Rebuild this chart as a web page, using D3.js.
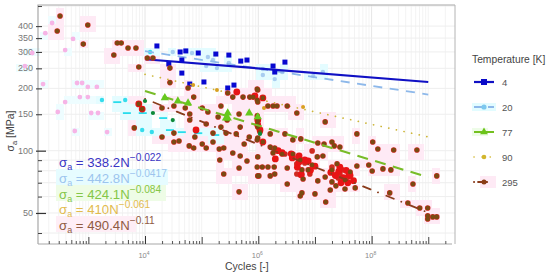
<!DOCTYPE html>
<html>
<head>
<meta charset="utf-8">
<script src="https://cdn.jsdelivr.net/npm/d3@7"></script>
<style>
  html, body { margin: 0; padding: 0; background: #fff; }
  svg { display: block; font-family: "Liberation Sans", Arial, sans-serif; }
  .domain { display: none; }
</style>
</head>
<body>
<div class="wrapper"></div>
<script>
// all points are [log10 cycles, log10 stress]
var points4 = [[4.21,2.506],[4.62,2.477],[4.72,2.482],[4.94,2.472],[5.25,2.467],[5.48,2.462],[5.69,2.433],[5.80,2.438],[6.26,2.409],[6.47,2.428],[6.29,2.380],[4.65,2.438],[4.42,2.419],[4.65,2.375],[5.04,2.332],[4.79,2.322],[5.46,2.303],[5.57,2.317]];
var points20 = [[4.09,2.477],[4.49,2.477],[4.83,2.472],[5.11,2.453],[5.20,2.438],[5.08,2.409],[5.27,2.399],[5.48,2.424],[6.08,2.395],[6.08,2.366],[6.29,2.346],[6.42,2.380],[7.14,2.380],[6.97,2.361],[3.24,2.245],[3.65,2.245],[3.95,2.100],[4.12,2.090]];
var dashes20 = [[3.51,2.235],[3.68,2.182],[3.96,2.182],[4.32,2.158],[4.44,2.100],[4.65,2.090],[4.94,2.085],[5.24,2.076]];
var paleLow = [[2.20,2.322],[2.80,2.327],[2.89,2.327],[2.99,2.308],[3.15,2.308],[2.85,2.259],[2.99,2.259],[2.59,2.235],[2.46,2.187],[3.05,2.182],[3.17,2.182],[2.76,2.095],[3.33,2.090],[2.36,2.617],[2.24,2.568],[2.01,2.472],[1.88,2.409],[2.59,2.486],[2.73,2.540]];
var points77 = [[4.35,2.255],[4.58,2.240],[4.76,2.230],[5.46,2.182],[5.46,2.158],[5.84,2.182],[5.99,2.163],[5.43,2.158]];
var dots77 = [[4.00,2.240],[4.14,2.182],[4.49,2.148],[6.03,2.081]];
var points90 = [[4.85,2.317],[5.27,2.293],[6.79,2.211],[6.33,2.216],[6.10,2.206]];
// spots where the 295 K marks pile up and read as plain red
var redDots = [[4.90,2.100],[5.62,2.284],[6.42,1.990],[6.58,1.985],[6.72,1.975],[6.82,1.955],[6.69,1.920],[6.72,1.945],[6.88,1.950],[6.76,1.885],[7.00,1.925],[7.42,1.900],[7.50,1.870],[7.60,1.890],[7.68,1.855],[7.46,1.845],[7.36,1.880],[7.55,1.905],[7.62,1.880],[7.28,1.895],[7.58,1.845],[7.44,1.920],[6.08,2.255],[5.94,2.265],[5.99,2.124],[5.99,2.148],[6.03,2.100],[6.08,2.042],[3.89,2.226],[3.95,2.201],[6.35,2.000],[6.92,1.905],[6.60,1.965],[6.30,1.960]];
var points295 = [[2.50,2.651],[2.45,2.578],[2.99,2.607],[2.91,2.515],[3.51,2.520],[3.58,2.520],[3.45,2.462],[3.70,2.496],[3.84,2.496],[3.89,2.404],[4.04,2.448],[4.14,2.448],[3.89,2.226],[3.95,2.201],[3.81,2.110],[4.44,2.399],[4.44,2.329],[4.76,2.303],[4.86,2.259],[4.30,2.206],[4.51,2.216],[4.71,2.206],[4.79,2.177],[4.79,2.148],[5.01,2.206],[5.11,2.187],[5.34,2.216],[5.29,2.163],[5.08,2.129],[5.45,2.148],[5.66,2.177],[5.68,2.114],[5.34,2.114],[5.61,2.081],[4.30,2.066],[4.51,2.085],[4.88,2.066],[5.20,2.085],[5.43,2.085],[5.84,2.066],[5.99,2.124],[5.98,2.245],[5.55,2.259],[5.73,2.259],[5.85,2.259],[5.46,2.279],[5.98,2.298],[4.51,2.042],[4.60,2.047],[4.78,2.023],[4.86,2.013],[5.01,2.032],[5.08,2.013],[5.20,2.042],[5.75,2.032],[5.98,2.052],[5.31,2.008],[5.39,2.013],[5.55,1.989],[5.68,1.974],[5.80,1.950],[5.66,1.916],[5.98,1.921],[5.99,1.878],[5.32,1.955],[5.39,1.887],[5.66,1.801],[5.99,1.970],[5.99,2.293],[5.91,2.259],[6.08,2.255],[5.99,2.235],[6.17,2.216],[6.26,2.216],[6.33,2.216],[6.51,2.216],[6.68,2.182],[7.18,2.139],[7.74,2.081],[5.98,2.168],[5.99,2.143],[5.99,2.114],[6.03,2.090],[6.21,2.081],[6.47,2.081],[6.61,2.052],[6.75,2.057],[7.05,2.037],[7.16,2.032],[7.30,2.042],[7.34,2.023],[7.44,2.018],[5.99,2.061],[6.08,2.042],[6.21,2.018],[6.29,2.013],[6.26,1.989],[6.42,1.984],[6.47,1.984],[6.61,1.984],[6.95,1.999],[7.04,1.970],[7.14,1.974],[6.74,1.955],[6.82,1.941],[6.95,1.931],[6.68,1.936],[6.77,1.907],[6.68,1.887],[6.79,1.863],[6.91,1.887],[7.05,1.854],[6.07,1.921],[6.17,1.921],[6.28,1.921],[6.51,1.916],[6.01,1.878],[6.21,1.878],[6.29,1.887],[6.51,1.839],[7.30,1.921],[7.39,1.936],[7.74,1.926],[7.95,1.931],[8.01,1.902],[8.20,1.912],[8.34,1.907],[8.02,2.042],[8.11,2.008],[8.39,2.003],[8.80,2.003],[7.71,1.820],[8.32,1.796],[8.73,1.839],[8.64,1.747],[8.85,1.723],[8.99,1.723],[8.99,1.685],[8.99,1.670],[9.08,1.680],[9.15,1.680],[9.15,1.878],[6.77,1.796],[6.74,1.781],[7.00,1.791],[7.19,1.752],[7.18,1.873],[7.30,1.907],[7.48,1.907],[7.30,1.849],[7.41,1.868],[7.53,1.858],[7.58,1.873],[7.27,1.810],[7.53,1.815],[7.37,1.830],[7.44,1.887],[7.62,1.897],[6.70,1.970],[6.88,1.907],[6.74,1.882]];

// fit line ends, [cycles, MPa]
var fit4 = [[1e4, 276.5], [1e9, 214.7]];
var fit20 = [[1e4, 302.4], [1e9, 186.8]];
var fit77 = [[1e4, 194], [1e9, 74.4]];
var fit90 = [[1e4, 233.9], [1e9, 116.6]];
var fit295 = [[1e4, 178], [1e9, 50.2]];

var yLabels = [50, 100, 150, 200, 250, 300, 350, 400];
var yMinor = [40, 60, 70, 80, 90, 500];
var xMajor = [1e4, 1e6, 1e8];
var xOdd = [1e3, 1e5, 1e7, 1e9];
var temperatures = ["4", "20", "77", "90", "295"];
var eqCoeffs = ["338.2", "442.8", "424.1", "410", "490.4"];
var eqExps = ["-0.022", "-0.0417", "-0.084", "-0.061", "-0.11"];
var eqColors = ["#3a35c4", "#9cc4ee", "#84c648", "#e2bb4e", "#8f5a42"];
var eqHalos = [null, "#e6fcff", "#eefce6", null, "#feeef6"];

var width = 550, height = 276;
var margin = { left: 38, right: 455, top: 5, bottom: 244 };

var x = d3.scaleLog().domain([Math.pow(10, 2.111), Math.pow(10, 9.472)]).range([margin.left, margin.right]);
var y = d3.scaleLog().domain([505.8, 35.4]).range([margin.top, margin.bottom]);

var svg = d3.select(".wrapper").append("svg").attr("width", width).attr("height", height);

function px(d) { return x(Math.pow(10, d[0])); }
function py(d) { return y(Math.pow(10, d[1])); }

function minorX() {
  var out = [];
  for (var e = 2; e <= 9; e++) {
    for (var m = 2; m <= 9; m++) {
      var v = m * Math.pow(10, e);
      if (v > x.domain()[0] && v < x.domain()[1]) out.push(v);
    }
  }
  return out;
}

function drawGrid() {
  var g = svg.append("g").attr("class", "grid");
  g.selectAll(".gx").data(minorX().concat(xOdd)).enter().append("line")
    .attr("x1", d => x(d)).attr("x2", d => x(d))
    .attr("y1", margin.top).attr("y2", margin.bottom)
    .attr("stroke", "#f3f3f3").attr("stroke-width", 1);
  g.selectAll(".gxm").data(xMajor).enter().append("line")
    .attr("x1", d => x(d)).attr("x2", d => x(d))
    .attr("y1", margin.top).attr("y2", margin.bottom)
    .attr("stroke", "#e6e6e6").attr("stroke-width", 1);
  g.selectAll(".gy").data(yMinor.concat(yLabels)).enter().append("line")
    .attr("x1", margin.left).attr("x2", margin.right)
    .attr("y1", d => y(d)).attr("y2", d => y(d))
    .attr("stroke", "#eeeeee").attr("stroke-width", 1);
}

// the reference has blocky colour halos round the marks
function drawHalos(data, color, reach) {
  var cells = new Set();
  data.forEach(d => {
    var cx = px(d), cy = py(d);
    [cx - reach, cx + reach].forEach(a => {
      [cy - reach, cy + reach].forEach(b => {
        cells.add(Math.floor(a / 8) * 8 + "," + Math.floor(b / 8) * 8);
      });
    });
  });
  svg.append("g").selectAll("rect").data(Array.from(cells)).enter().append("rect")
    .attr("x", d => +d.split(",")[0])
    .attr("y", d => +d.split(",")[1])
    .attr("width", 8).attr("height", 8)
    .attr("fill", color);
}

function drawFit(data, color, w, dash, cap) {
  var line = d3.line().x(d => x(d[0])).y(d => y(d[1]));
  svg.append("path").datum(data).attr("d", line)
    .attr("fill", "none").attr("stroke", color).attr("stroke-width", w)
    .attr("stroke-dasharray", dash).attr("stroke-linecap", cap || "butt");
}

function drawAxes() {
  // frame
  svg.append("path")
    .attr("d", `M${margin.left},${margin.bottom}V${margin.top}H${margin.right}`)
    .attr("fill", "none").attr("stroke", "#a8a8a8").attr("stroke-width", 1.2);
  svg.append("line").attr("x1", margin.left).attr("x2", 452)
    .attr("y1", margin.bottom).attr("y2", margin.bottom)
    .attr("stroke", "#a8a8a8").attr("stroke-width", 1.2);
  svg.append("line").attr("x1", margin.right).attr("x2", margin.right)
    .attr("y1", margin.top).attr("y2", margin.bottom)
    .attr("stroke", "#b4b4b4").attr("stroke-width", 1);

  function bottomTicks(values, size, color) {
    var g = svg.append("g").attr("transform", `translate(0,${margin.bottom})`)
      .call(d3.axisBottom(x).tickValues(values).tickSize(-size).tickFormat(""));
    g.selectAll("line").attr("stroke", color).attr("stroke-width", 1);
    g.selectAll("text").remove();
  }
  bottomTicks(minorX().filter(v => String(v)[0] !== "5"), 3, "#555");
  bottomTicks(minorX().filter(v => String(v)[0] === "5"), 4, "#555");
  bottomTicks(xOdd, 7, "#444");
  bottomTicks(xMajor, 8, "#333");

  function leftTicks(values, inner, outer, color, w) {
    var g = svg.append("g").attr("transform", `translate(${margin.left},0)`)
      .call(d3.axisLeft(y).tickValues(values).tickSizeInner(inner).tickFormat(""));
    g.selectAll("line").attr("x1", outer).attr("x2", -inner).attr("stroke", color).attr("stroke-width", w);
    g.selectAll("text").remove();
  }
  leftTicks(yMinor, 0, 4, "#444", 1);
  leftTicks([50, 100], 2, 8, "#333", 1.2);
  leftTicks([150, 200, 250, 300, 350, 400], 2, 4, "#444", 1.1);

  svg.append("g").selectAll("text").data(yLabels).enter().append("text")
    .attr("x", 33).attr("y", d => y(d) + 3)
    .attr("text-anchor", "end").attr("font-size", 9).attr("fill", "#777")
    .text(d => d);

  var xl = svg.append("g").selectAll("text").data(xMajor).enter().append("text")
    .attr("x", d => x(d) - 1).attr("y", 258)
    .attr("text-anchor", "middle").attr("font-size", 7.5).attr("fill", "#888");
  xl.append("tspan").text("10");
  xl.append("tspan").attr("dy", -3).attr("font-size", 5).text(d => Math.log10(d));

  svg.append("text").attr("x", 225).attr("y", 270)
    .attr("font-size", 10.5).attr("fill", "#444").text("Cycles [-]");

  var yt = svg.append("text").attr("transform", "translate(14,131) rotate(-90)")
    .attr("text-anchor", "middle").attr("font-size", 10.5).attr("fill", "#444");
  yt.append("tspan").text("σ");
  yt.append("tspan").attr("dy", 2.5).attr("font-size", 7.5).text("a");
  yt.append("tspan").attr("dy", -2.5).text(" [MPa]");
}

function drawEquations() {
  var rows = [162, 178, 194, 209, 225];
  var halos = svg.append("g");
  temperatures.forEach((t, i) => {
    if (eqHalos[i]) {
      var w = i === 1 ? 112 : (i === 2 ? 110 : 80);
      halos.append("rect").attr("x", 56).attr("y", rows[i] - 9)
        .attr("width", w).attr("height", 16).attr("fill", eqHalos[i]);
    }
    var txt = svg.append("text").attr("x", 59).attr("y", rows[i] + 5)
      .attr("font-size", 13.2).attr("fill", eqColors[i]);
    txt.append("tspan").text("σ");
    txt.append("tspan").attr("dy", 3).attr("font-size", 9).text("a");
    txt.append("tspan").attr("dy", -3).text(" = " + eqCoeffs[i] + "N");
    txt.append("tspan").attr("dy", -6).attr("font-size", 10.2).text(eqExps[i].replace("-", "\u2212"));
  });
}

function drawLegend() {
  var rowY = d3.scalePoint().domain(temperatures).range([82, 182]);
  svg.append("text").attr("x", 472).attr("y", 63)
    .attr("font-size", 10.3).attr("fill", "#444").text("Temperature [K]");

  var h = svg.append("g");
  h.append("rect").attr("x", 472).attr("y", 103).attr("width", 24).attr("height", 8).attr("fill", "#e2fcff");
  h.append("rect").attr("x", 472).attr("y", 128).attr("width", 16).attr("height", 8).attr("fill", "#eefce8");
  h.append("rect").attr("x", 480).attr("y", 176).attr("width", 16).attr("height", 12).attr("fill", "#feeaf5");

  var key = svg.append("g");
  function keyLine(t, color, w, dash, cap) {
    key.append("line").attr("x1", 474).attr("x2", 494)
      .attr("y1", rowY(t)).attr("y2", rowY(t))
      .attr("stroke", color).attr("stroke-width", w)
      .attr("stroke-dasharray", dash).attr("stroke-linecap", cap || "butt");
  }
  keyLine("4", "#1010c4", 2.2, null);
  keyLine("20", "#8db8ea", 1.8, "11,3");
  keyLine("77", "#74c020", 2, null);
  keyLine("90", "#d2b62e", 1.6, "0.1,8", "round");
  keyLine("295", "#8a3c1c", 2, "0.1,4,9,9", "round");

  key.append("rect").attr("x", 481).attr("y", 79).attr("width", 6).attr("height", 6).attr("fill", "#0a0ac8");
  key.append("circle").attr("cx", 484).attr("cy", rowY("20")).attr("r", 2.6).attr("fill", "#7cc8ee");
  key.append("path").attr("transform", `translate(484,${rowY("77")})`)
    .attr("d", d3.symbol(d3.symbolTriangle, 26)).attr("fill", "#6cc41a");
  key.append("circle").attr("cx", 484).attr("cy", rowY("90")).attr("r", 2.3).attr("fill", "#d2b62e");
  key.append("circle").attr("cx", 484).attr("cy", rowY("295")).attr("r", 2.5).attr("fill", "#8a3c14");

  svg.append("g").selectAll("text").data(temperatures).enter().append("text")
    .attr("x", 502).attr("y", d => rowY(d) + 3.5)
    .attr("font-size", 9.5).attr("fill", "#555").text(d => d);
}

function drawMarks() {
  svg.append("g").selectAll("circle").data(paleLow).enter().append("circle")
    .attr("cx", px).attr("cy", py).attr("r", 2.4).attr("fill", "#f6b4e6");
  svg.append("g").selectAll("circle").data(points20).enter().append("circle")
    .attr("cx", px).attr("cy", py).attr("r", 2.2)
    .attr("fill", d => d[0] < 4.2 ? "#35dcec" : "#a8cdf0");
  svg.append("g").selectAll("rect").data(dashes20).enter().append("rect")
    .attr("x", d => px(d) - 4).attr("y", d => py(d) - 0.8)
    .attr("width", 8).attr("height", 1.8).attr("fill", "#28dcec");

  drawFit(fit20, "#8db8ea", 1.8, "9,7.5");
  drawFit(fit4, "#1010c4", 2.2, null);

  svg.append("g").selectAll("rect").data(points4).enter().append("rect")
    .attr("x", d => px(d) - 2.5).attr("y", d => py(d) - 2.5)
    .attr("width", 5).attr("height", 5).attr("fill", "#0808d0");

  drawFit(fit90, "#cdb63a", 1.7, "0.1,7.7", "round");
  svg.append("g").selectAll("circle").data(points90).enter().append("circle")
    .attr("cx", px).attr("cy", py).attr("r", 2).attr("fill", "#d8a020");

  // red pass first so that dense parts merge into blobs
  svg.append("g").selectAll("circle").data(points295).enter().append("circle")
    .attr("cx", px).attr("cy", py).attr("r", 2.8).attr("fill", "#d02a22");
  svg.append("g").selectAll("circle").data(redDots).enter().append("circle")
    .attr("cx", px).attr("cy", py).attr("r", 3.4).attr("fill", "#e81416");
  svg.append("g").selectAll("circle").data(points295.filter(d => !inCluster(d))).enter().append("circle")
    .attr("cx", px).attr("cy", py).attr("r", 2.3).attr("fill", "#7a4a12");

  drawFit(fit295, "#8a3c1c", 1.8, "0.1,9,8,8", "round");
  drawFit(fit77, "#78bc28", 2.1, "11,7.5");

  svg.append("g").selectAll("path").data(points77).enter().append("path")
    .attr("transform", d => `translate(${px(d)},${py(d)})`)
    .attr("d", d3.symbol(d3.symbolTriangle, 30)).attr("fill", "#66c81e");
  svg.append("g").selectAll("circle").data(dots77).enter().append("circle")
    .attr("cx", px).attr("cy", py).attr("r", 2.1).attr("fill", "#0e8a3a");
}

// inside the two dense clumps only about every other mark still shows brown
function inCluster(d) {
  var i = points295.indexOf(d);
  var clump = (d[0] > 6.3 && d[0] < 7.0 && d[1] > 1.86 && d[1] < 2.0) ||
    (d[0] > 7.25 && d[0] < 7.7 && d[1] > 1.84 && d[1] < 1.93);
  return clump && i % 2 === 0;
}

drawGrid();
drawHalos(points295, "#feeaf5", 3);
drawHalos(points20.concat(dashes20), "#e4fcff", 2);
drawHalos(paleLow, "#eefdff", 1);
drawEquations();
drawAxes();
drawMarks();
drawLegend();
</script>
</body>
</html>
